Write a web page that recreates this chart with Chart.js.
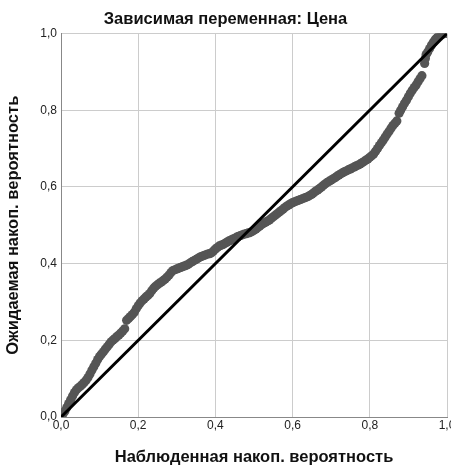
<!DOCTYPE html>
<html>
<head>
<meta charset="utf-8">
<script src="https://cdn.jsdelivr.net/npm/chart.js@4"></script>
<style>
  html, body { margin: 0; padding: 0; background: #ffffff; }
  canvas { display: block; }
</style>
</head>
<body>
<canvas id="c" width="451" height="467"></canvas>
<script>
// Observed cumulative probability (x) and expected cumulative probability (y)
const observed = [
  0.000, 0.005, 0.010, 0.015, 0.020, 0.025, 0.030, 0.035, 0.040, 0.045,
  0.050, 0.055, 0.060, 0.065, 0.070, 0.075, 0.080, 0.085, 0.090, 0.095,
  0.100, 0.105, 0.110, 0.115, 0.120, 0.125, 0.130, 0.135, 0.140, 0.145,
  0.150, 0.155, 0.160, 0.165, 0.170, 0.175, 0.180, 0.185, 0.190, 0.195,
  0.200, 0.205, 0.210, 0.215, 0.220, 0.225, 0.230, 0.235, 0.240, 0.245,
  0.250, 0.255, 0.260, 0.265, 0.270, 0.275, 0.280, 0.285, 0.290, 0.295,
  0.300, 0.305, 0.310, 0.315, 0.320, 0.325, 0.330, 0.335, 0.340, 0.345,
  0.350, 0.355, 0.360, 0.365, 0.370, 0.375, 0.380, 0.385, 0.390, 0.395,
  0.400, 0.405, 0.410, 0.415, 0.420, 0.425, 0.430, 0.435, 0.440, 0.445,
  0.450, 0.455, 0.460, 0.465, 0.470, 0.475, 0.480, 0.485, 0.490, 0.495,
  0.500, 0.505, 0.510, 0.515, 0.520, 0.525, 0.530, 0.535, 0.540, 0.545,
  0.550, 0.555, 0.560, 0.565, 0.570, 0.575, 0.580, 0.585, 0.590, 0.595,
  0.600, 0.605, 0.610, 0.615, 0.620, 0.625, 0.630, 0.635, 0.640, 0.645,
  0.650, 0.655, 0.660, 0.665, 0.670, 0.675, 0.680, 0.685, 0.690, 0.695,
  0.700, 0.705, 0.710, 0.715, 0.720, 0.725, 0.730, 0.735, 0.740, 0.745,
  0.750, 0.755, 0.760, 0.765, 0.770, 0.775, 0.780, 0.785, 0.790, 0.795,
  0.800, 0.805, 0.810, 0.815, 0.820, 0.825, 0.830, 0.835, 0.840, 0.845,
  0.850, 0.855, 0.860, 0.865, 0.870, 0.876, 0.880, 0.885, 0.890, 0.895,
  0.900, 0.905, 0.910, 0.915, 0.920, 0.925, 0.930, 0.935, 0.942, 0.944,
  0.946, 0.950, 0.955, 0.960, 0.965, 0.970, 0.975, 0.980, 0.985, 0.990,
  1.000
];
const expected = [
  0.003, 0.008, 0.015, 0.025, 0.035, 0.045, 0.055, 0.064, 0.071, 0.076,
  0.080, 0.085, 0.090, 0.096, 0.103, 0.112, 0.122, 0.131, 0.140, 0.150,
  0.158, 0.164, 0.170, 0.177, 0.183, 0.190, 0.196, 0.201, 0.205, 0.210,
  0.214, 0.219, 0.224, 0.230, 0.252, 0.257, 0.262, 0.267, 0.273, 0.282,
  0.290, 0.297, 0.303, 0.308, 0.313, 0.317, 0.322, 0.329, 0.336, 0.341,
  0.345, 0.349, 0.352, 0.356, 0.360, 0.365, 0.370, 0.377, 0.382, 0.384,
  0.386, 0.388, 0.390, 0.392, 0.394, 0.396, 0.398, 0.402, 0.405, 0.408,
  0.411, 0.414, 0.417, 0.419, 0.421, 0.423, 0.425, 0.426, 0.428, 0.433,
  0.438, 0.442, 0.446, 0.448, 0.450, 0.453, 0.456, 0.459, 0.461, 0.464,
  0.466, 0.469, 0.471, 0.473, 0.475, 0.477, 0.478, 0.480, 0.481, 0.484,
  0.487, 0.490, 0.494, 0.498, 0.502, 0.505, 0.508, 0.511, 0.514, 0.518,
  0.522, 0.526, 0.530, 0.534, 0.538, 0.542, 0.546, 0.550, 0.553, 0.556,
  0.559, 0.561, 0.563, 0.565, 0.567, 0.569, 0.571, 0.573, 0.575, 0.578,
  0.581, 0.585, 0.589, 0.592, 0.596, 0.600, 0.604, 0.608, 0.612, 0.615,
  0.618, 0.621, 0.624, 0.628, 0.631, 0.634, 0.637, 0.640, 0.642, 0.645,
  0.647, 0.650, 0.652, 0.655, 0.657, 0.660, 0.663, 0.666, 0.670, 0.673,
  0.677, 0.681, 0.686, 0.693, 0.700, 0.708, 0.715, 0.722, 0.730, 0.738,
  0.745, 0.753, 0.760, 0.766, 0.772, 0.792, 0.800, 0.809, 0.818, 0.826,
  0.835, 0.844, 0.852, 0.859, 0.866, 0.874, 0.882, 0.890, 0.922, 0.935,
  0.945, 0.952, 0.961, 0.970, 0.978, 0.985, 0.990, 0.995, 0.997, 0.999,
  1.000
];
// Reference diagonal
const diagonalX = [0, 1];
const diagonalY = [0, 1];

const tickLabels = ['0,0', '0,2', '0,4', '0,6', '0,8', '1,0'];
const chartTitle = 'Зависимая переменная: Цена';
const xTitle = 'Наблюденная накоп. вероятность';
const yTitle = 'Ожидаемая накоп. вероятность';

const FONT = "'Liberation Sans', Arial, sans-serif";

const points = observed.map((x, i) => ({ x: x, y: expected[i] }));
const diag = diagonalX.map((x, i) => ({ x: x, y: diagonalY[i] }));

const tickCb = function (value) {
  const idx = Math.round(value / 0.2);
  return tickLabels[idx] !== undefined ? tickLabels[idx] : '';
};

new Chart(document.getElementById('c'), {
  type: 'scatter',
  data: {
    datasets: [
      {
        type: 'line',
        data: diag,
        borderColor: '#000000',
        borderWidth: 3,
        pointRadius: 0,
        fill: false,
        order: 0
      },
      {
        data: points,
        backgroundColor: '#555555',
        borderWidth: 0,
        pointRadius: 4.6,
        pointHoverRadius: 4.6,
        order: 1
      }
    ]
  },
  options: {
    responsive: false,
    animation: false,
    devicePixelRatio: 1,
    layout: { autoPadding: false, padding: { left: 4, right: 4, top: 0, bottom: 0 } },
    plugins: {
      legend: { display: false },
      tooltip: { enabled: false },
      title: {
        display: true,
        text: chartTitle,
        color: '#111111',
        font: { family: FONT, size: 16.5, weight: 'bold', lineHeight: 1.2 },
        padding: { top: 10, bottom: 3.7 }
      }
    },
    scales: {
      x: {
        type: 'linear',
        min: 0,
        max: 1,
        ticks: {
          stepSize: 0.2,
          callback: tickCb,
          color: '#222222',
          font: { family: FONT, size: 12 },
          padding: 1,
          maxRotation: 0,
          autoSkip: false
        },
        grid: { color: '#cccccc', lineWidth: 1, drawTicks: false },
        border: { color: '#888888', width: 1 },
        title: {
          display: true,
          text: xTitle,
          color: '#111111',
          font: { family: FONT, size: 16.5, weight: 'bold', lineHeight: 1.2 },
          padding: 0
        },
        afterFit: function (scale) {
          scale.height = 50;
          scale.paddingLeft = 0;
          scale.paddingRight = 0;
        }
      },
      y: {
        type: 'linear',
        min: 0,
        max: 1,
        ticks: {
          stepSize: 0.2,
          callback: tickCb,
          color: '#222222',
          font: { family: FONT, size: 12 },
          padding: 4
        },
        grid: { color: '#cccccc', lineWidth: 1, drawTicks: false },
        border: { color: '#888888', width: 1 },
        title: {
          display: true,
          text: yTitle,
          color: '#111111',
          font: { family: FONT, size: 16.5, weight: 'bold', lineHeight: 1.2 },
          padding: 0
        },
        afterFit: function (scale) {
          scale.width = 57;
          scale.paddingTop = 0;
          scale.paddingBottom = 0;
        }
      }
    }
  }
});
</script>
</body>
</html>
